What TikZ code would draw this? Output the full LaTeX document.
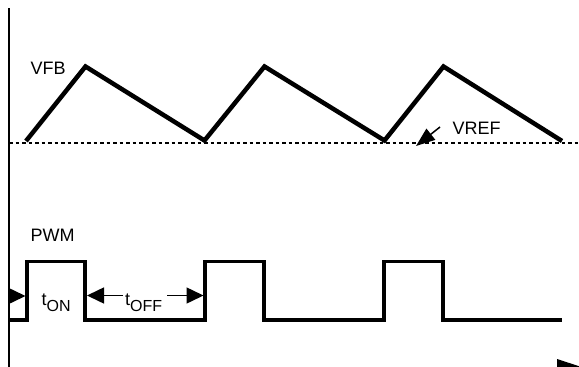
\documentclass[tikz,border=0pt]{standalone}
\usepackage{fontspec}
\setmainfont{Liberation Sans}
\usetikzlibrary{arrows.meta}
\newcommand{\mainsz}{\fontsize{18}{21}\selectfont}
\newcommand{\subsz}{\fontsize{16}{19}\selectfont}
\tikzset{
  axisline/.style={line width=1.6pt},
  refline/.style={line width=1.4pt, dash pattern=on 3.5pt off 3pt},
  rampline/.style={line width=4.5pt, line join=miter},
  pwmline/.style={line width=3.5pt, line join=miter},
  dimline/.style={line width=1.5pt},
  bigtip/.style={-{Triangle[length=17pt,width=16pt]}},
  lbl/.style={font=\mainsz, inner sep=0pt, anchor=base west},
}
\begin{document}
\begin{tikzpicture}[x=1pt,y=-1pt]
\useasboundingbox (0,0) rectangle (579,367);
% axis
\coordinate (atop) at (9,8);
\coordinate (abot) at (9,367);
\draw[axisline] (atop) -- (abot);
% reference line
\coordinate (rl) at (9,143);
\coordinate (rr) at (579,143);
\draw[refline] (rl) -- (rr);
% ramp
\coordinate (r0) at (26,141);
\coordinate (r1) at (85.5,66.5);
\coordinate (r2) at (204.5,140.5);
\coordinate (r3) at (264.5,66.5);
\coordinate (r4) at (384.5,140.5);
\coordinate (r5) at (443.5,66.5);
\coordinate (r6) at (562,141);
\draw[rampline] (r0) -- (r1) -- (r2) -- (r3) -- (r4) -- (r5) -- (r6);
% pwm
\coordinate (p0) at (9,320);
\coordinate (p1) at (27,320);
\coordinate (p2) at (27,261.5);
\coordinate (p3) at (85,261.5);
\coordinate (p4) at (85,320);
\coordinate (p5) at (205,320);
\coordinate (p6) at (205,261.5);
\coordinate (p7) at (264,261.5);
\coordinate (p8) at (264,320);
\coordinate (p9) at (384,320);
\coordinate (p10) at (384,261.5);
\coordinate (p11) at (443,261.5);
\coordinate (p12) at (443,320);
\coordinate (p13) at (562,320);
\draw[pwmline] (p0) -- (p1) -- (p2) -- (p3) -- (p4) -- (p5) -- (p6) -- (p7) -- (p8) -- (p9) -- (p10) -- (p11) -- (p12) -- (p13);
% labels
\node[lbl] (vfb) at (30.5,74) {VFB};
\node[lbl] (pwm) at (30.5,241.5) {PWM};
\node[lbl] (vref) at (452.5,134) {VREF};
\node[lbl] (ton) at (41.5,305) {t\raisebox{-6.7pt}{\subsz ON}};
\node[lbl] (toff) at (125,305) {t\raisebox{-6.7pt}{\subsz OFF}};
% vref arrow
\coordinate (va) at (440,127);
\coordinate (vb) at (416,146);
\draw[dimline, -{Triangle[length=19pt,width=14pt]}] (va) -- (vb);
% ton arrow
\coordinate (ta) at (9,296);
\coordinate (tb) at (25.5,296);
\draw[dimline, bigtip] (ta) -- (tb);
% toff arrows
\coordinate (oa) at (123,295.5);
\coordinate (ob) at (87,295.5);
\coordinate (oc) at (167,295.5);
\coordinate (od) at (203.5,295.5);
\draw[dimline, bigtip] (oa) -- (ob);
\draw[dimline, bigtip] (oc) -- (od);
% cut-off axis arrowhead at bottom right
\begin{scope}
\clip (0,0) rectangle (579,367);
\coordinate (h1) at (557,359);
\coordinate (h2) at (603,374);
\coordinate (h3) at (557,389);
\fill (h1) -- (h2) -- (h3) -- cycle;
\end{scope}
\end{tikzpicture}
\end{document}
